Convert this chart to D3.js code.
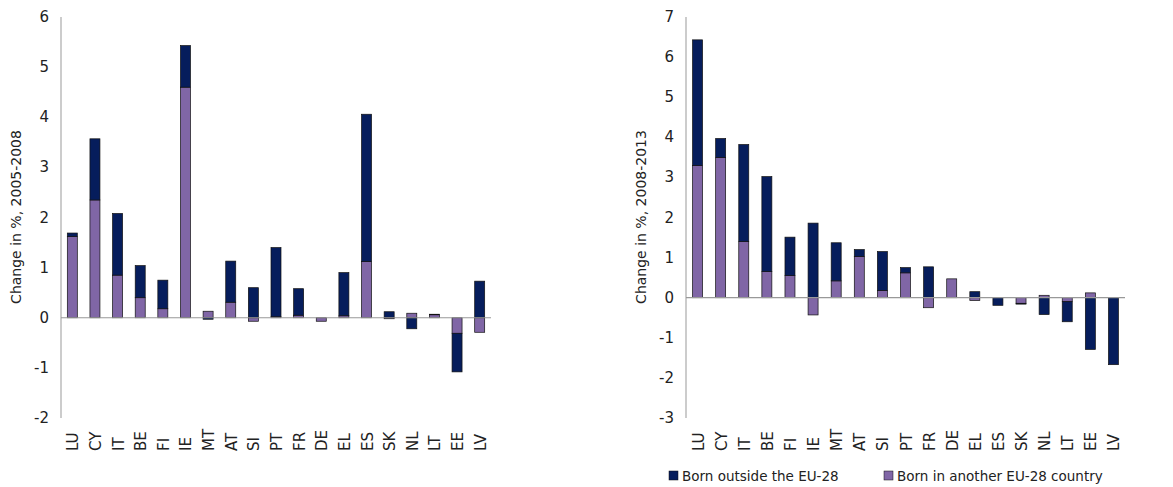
<!DOCTYPE html>
<html><head><meta charset="utf-8">
<script src="https://cdn.jsdelivr.net/npm/d3@7"></script>
<style>body{margin:0;background:#fff}text{font-family:"DejaVu Sans",Verdana,sans-serif;fill:#222}</style>
</head><body><svg id="c" width="1173" height="487"></svg>
<script>
const catsA = ["LU","CY","IT","BE","FI","IE","MT","AT","SI","PT","FR","DE","EL","ES","SK","NL","LT","EE","LV"];
const euA   = [1.62,2.35,0.85,0.40,0.18,4.60,0.13,0.31,-0.07,0.02,0.05,-0.07,0.04,1.12,-0.02,0.09,0.06,-0.31,-0.29];
const nonA  = [0.07,1.22,1.23,0.64,0.57,0.83,-0.03,0.82,0.60,1.38,0.53,0.00,0.86,2.94,0.12,-0.22,0.01,-0.77,0.73];
const catsB = ["LU","CY","IT","BE","FI","IE","MT","AT","SI","PT","FR","DE","EL","ES","SK","NL","LT","EE","LV"];
const euB   = [3.30,3.50,1.40,0.65,0.55,-0.43,0.42,1.03,0.18,0.62,-0.25,0.47,-0.07,0.00,-0.14,0.06,-0.10,0.12,0.00];
const nonB  = [3.13,0.47,2.42,2.37,0.96,1.86,0.95,0.17,0.97,0.13,0.77,0.00,0.15,-0.19,-0.02,-0.42,-0.50,-1.29,-1.67];
const ticksA = [-2,-1,0,1,2,3,4,5,6];
const ticksB = [-3,-2,-1,0,1,2,3,4,5,6,7];
const NAVY="#061d5c", PURP="#8066a6";
const svg=d3.select("#c");

function panel(cats,eu,non,dom,ticks,x0,x1,title){
  const y=d3.scaleLinear().domain(dom).range([418,17]);
  const x=d3.scaleBand().domain(cats).range([x0,x1]);
  const g=svg.append("g");
  g.append("line").attr("x1",x0).attr("x2",x0).attr("y1",17).attr("y2",418).attr("stroke","#999");
  ticks.forEach(t=>g.append("text").attr("x",x0-12).attr("y",y(t)+5).attr("text-anchor","end").attr("font-size",15).text(t));
  const bw=10;
  cats.forEach((c,i)=>{
    let pos=0,neg=0;
    [[eu[i],PURP],[non[i],NAVY]].forEach(([v,col])=>{
      let a,b;
      if(v>=0){a=pos;b=pos+v;pos=b;}else{a=neg;b=neg+v;neg=b;}
      if(v===0)return;
      g.append("rect").attr("x",x(c)+x.bandwidth()/2-bw/2).attr("width",bw)
       .attr("y",y(Math.max(a,b))).attr("height",Math.abs(y(a)-y(b)))
       .attr("fill",col).attr("stroke","#111").attr("stroke-width",0.7);
    });
    g.append("text").attr("transform",`translate(${x(c)+x.bandwidth()/2+6},${451}) rotate(-90)`)
     .attr("font-size",15).text(c);
  });
  g.append("line").attr("x1",x0).attr("x2",x1).attr("y1",y(0)).attr("y2",y(0)).attr("stroke","#999").attr("stroke-width",1.2);
  g.append("text").attr("transform",`translate(${x0-40},${217}) rotate(-90)`).attr("text-anchor","middle").attr("font-size",14).text(title);
}
panel(catsA,euA,nonA,[-2,6],ticksA,61,491,"Change in %, 2005-2008");
panel(catsB,euB,nonB,[-3,7],ticksB,686,1125,"Change in %, 2008-2013");

const leg=[["Born outside the EU-28",NAVY,669],["Born in another EU-28 country",PURP,884]];
leg.forEach(([t,c,lx])=>{
  svg.append("rect").attr("x",lx).attr("y",471).attr("width",9).attr("height",9).attr("fill",c).attr("stroke","#111").attr("stroke-width",0.5);
  svg.append("text").attr("x",lx+13).attr("y",481).attr("font-size",13.5).text(t);
});
</script></body></html>
